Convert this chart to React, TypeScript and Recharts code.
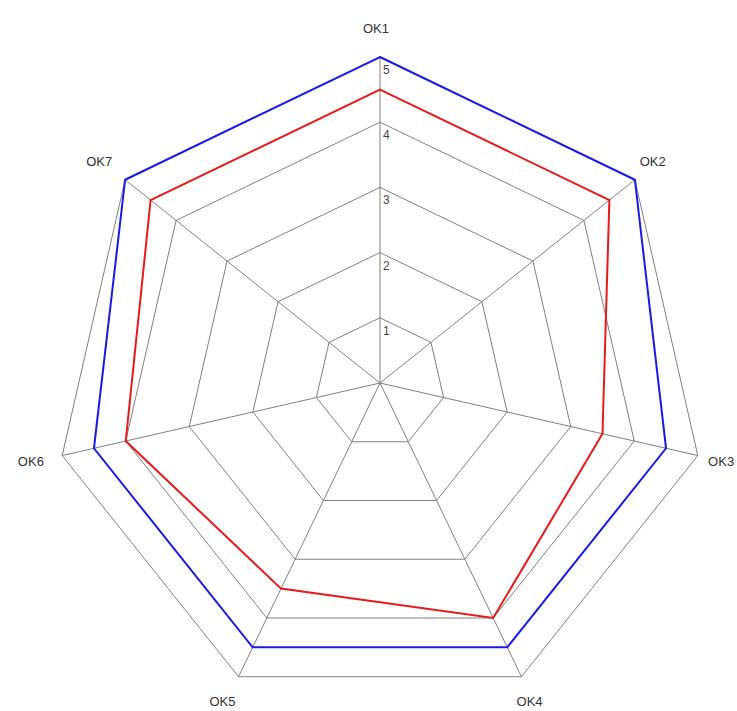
import React from 'react';
import { RadarChart, Radar, PolarGrid, PolarAngleAxis, PolarRadiusAxis } from 'recharts';

const categories = ['OK1', 'OK2', 'OK3', 'OK4', 'OK5', 'OK6', 'OK7'];
const blueValues = [5, 5, 4.5, 4.5, 4.5, 4.5, 5];
const redValues = [4.5, 4.5, 3.5, 4, 3.5, 4, 4.5];
const radiusTicks = [0, 1, 2, 3, 4, 5];

const CX = 380;
const CY = 383;
const OUTER = 326;
const LABEL_R = 354;

const data = categories.map((name, i) => ({
  name,
  blue: blueValues[i],
  red: redValues[i],
}));

// angle labels sit centred on a ring just outside the grid
const AngleTick = (props: any) => {
  const { x, y, payload } = props;
  const dx = x - CX;
  const dy = y - CY;
  const len = Math.sqrt(dx * dx + dy * dy) || 1;
  const lx = CX + (dx / len) * LABEL_R - 4;
  const ly = CY + (dy / len) * LABEL_R - 1;
  return (
    <text x={lx} y={ly} dy={5} textAnchor="middle" fontSize={13} fill="#333"
      fontFamily="'Liberation Sans', Arial, sans-serif">
      {payload.value}
    </text>
  );
};

const RadiusTick = (props: any) => {
  const { x, y, payload } = props;
  if (payload.value === 0) return null;
  return (
    <text x={x + 3} y={y + 17} textAnchor="start" fontSize={12} fill="#444"
      fontFamily="'Liberation Sans', Arial, sans-serif">
      {payload.value}
    </text>
  );
};

export default function App() {
  return (
    <div style={{ position: 'absolute', left: 0, top: 0, width: 737, height: 711, background: '#fff' }}>
      <RadarChart width={737} height={711} data={data} cx={CX} cy={CY} outerRadius={OUTER}
        margin={{ top: 0, right: 0, bottom: 0, left: 0 }}>
        <PolarGrid gridType="polygon" stroke="#808080" strokeWidth={1} />
        <PolarAngleAxis dataKey="name" tick={<AngleTick />} tickLine={false} axisLine={false} />
        <PolarRadiusAxis angle={90} domain={[0, 5]} ticks={radiusTicks as any} tickCount={6}
          axisLine={false} tickLine={false} tick={<RadiusTick />} />
        <Radar dataKey="blue" stroke="#1a1ae6" strokeWidth={2} fill="none" fillOpacity={0}
          dot={false} isAnimationActive={false} />
        <Radar dataKey="red" stroke="#e61a1a" strokeWidth={2} fill="none" fillOpacity={0}
          dot={false} isAnimationActive={false} />
      </RadarChart>
    </div>
  );
}
